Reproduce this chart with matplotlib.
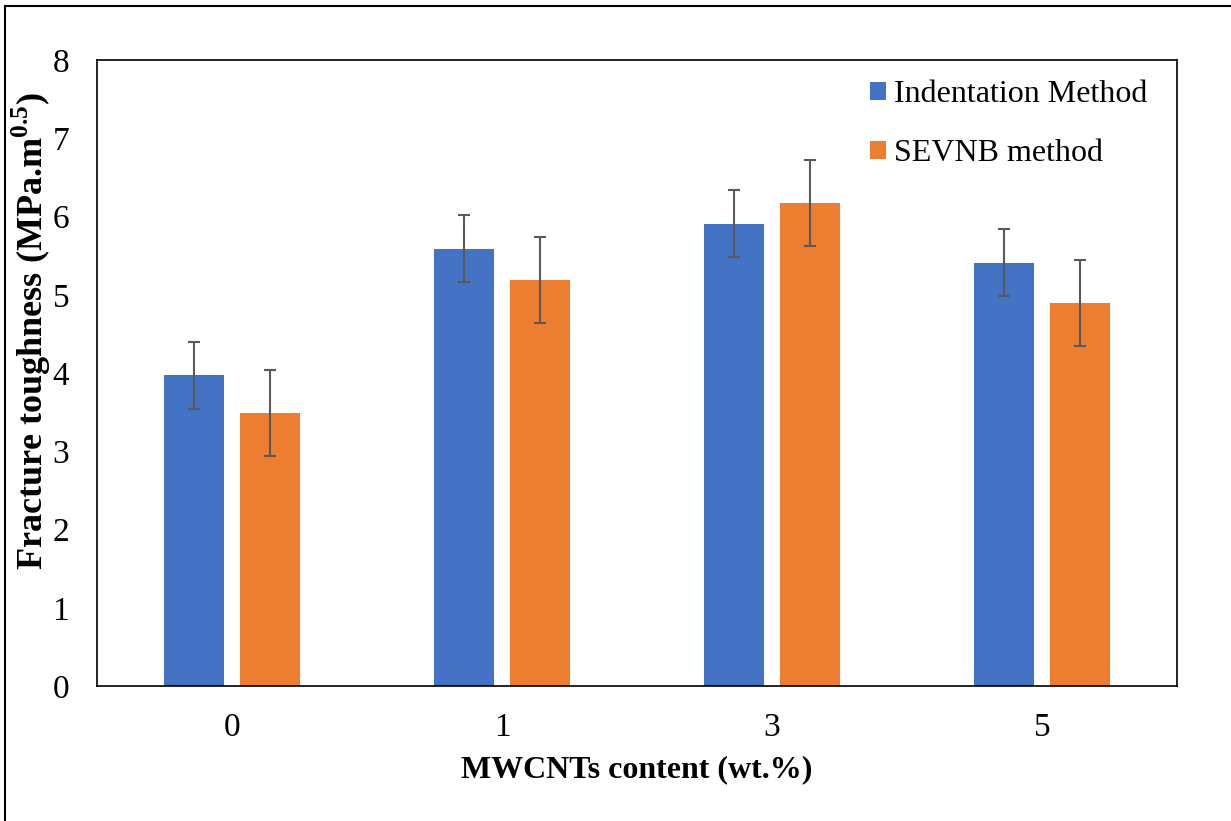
import matplotlib.pyplot as plt
from matplotlib.lines import Line2D
import numpy as np

plt.rcParams['font.family'] = ['Liberation Serif', 'DejaVu Serif']
plt.rcParams['mathtext.fontset'] = 'custom'
plt.rcParams['mathtext.rm'] = 'Liberation Serif'
plt.rcParams['mathtext.bf'] = 'Liberation Serif:bold'

# data
content = ['0', '1', '3', '5']
indentation = [3.97, 5.59, 5.91, 5.41]
indentation_err = [0.43, 0.43, 0.43, 0.43]
sevnb = [3.49, 5.19, 6.17, 4.89]
sevnb_err = [0.55, 0.55, 0.55, 0.55]

blue = '#4472C4'
orange = '#ED7D31'
err_kw = dict(ecolor='#595959', elinewidth=1.5, capsize=4.5, capthick=1.5)

fig = plt.figure(figsize=(12.31, 8.21), dpi=100)
ax = fig.add_axes([97/1231, 1 - 686/821, 1080/1231, 626/821])

x = np.arange(len(content))
w = 0.222
ax.bar(x - 0.142, indentation, w, yerr=indentation_err, color=blue,
       label='Indentation Method', error_kw=err_kw)
ax.bar(x + 0.142, sevnb, w, yerr=sevnb_err, color=orange,
       label='SEVNB method', error_kw=err_kw)

ax.set_xlim(-0.5, 3.5)
ax.set_ylim(0, 8)
ax.set_xticks(x)
ax.set_xticklabels(content)
ax.set_yticks(range(0, 9))
ax.tick_params(axis='both', length=0, labelsize=24)
ax.tick_params(axis='x', pad=19)
ax.tick_params(axis='y', pad=20)
for s in ax.spines.values():
    s.set_linewidth(1.2)
    s.set_color('black')

ax.set_xlabel('MWCNTs content (wt.%)', fontsize=23, fontweight='bold', labelpad=9)
ax.set_ylabel(r'Fracture toughness (MPa.m$^{\mathbf{0.5}}$)', fontsize=26,
              fontweight='bold')
ax.yaxis.set_label_coords(-0.041, 0.567)

fig.legend(loc='upper left', bbox_to_anchor=(870/1231, 1 - 80/821),
           frameon=False, fontsize=23, borderpad=0, borderaxespad=0,
           handlelength=0.5, handleheight=0.5, handletextpad=0.25,
           labelspacing=0.95)

# outer border (left and top edges of the cropped figure)
fig.add_artist(Line2D([5/1231, 5/1231], [0, 1 - 6/821], color='black', lw=1.5,
                      transform=fig.transFigure))
fig.add_artist(Line2D([5/1231, 1], [1 - 6/821, 1 - 6/821], color='black', lw=1.5,
                      transform=fig.transFigure))

fig.savefig('out.png', dpi=100)
